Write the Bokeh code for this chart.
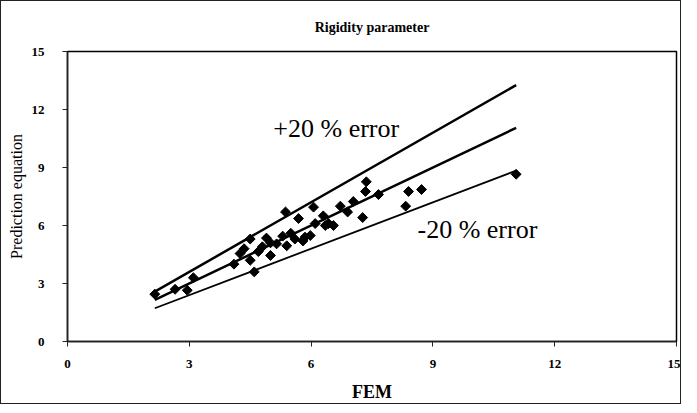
import math
from bokeh.plotting import figure
from bokeh.models import Range1d, FixedTicker, Label
from bokeh.embed import file_html
from bokeh.resources import INLINE

# FEM value vs prediction equation value
fem = [2.15, 2.65, 2.95, 3.1, 4.1, 4.25, 4.35, 4.5, 4.6, 4.5, 4.7, 4.8, 4.9, 5.0, 5.0,
       5.15, 5.3, 5.37, 5.4, 5.5, 5.6, 5.69, 5.8, 5.85, 5.98, 6.06, 6.1, 6.3, 6.35, 6.43,
       6.55, 6.72, 6.9, 7.04, 7.27, 7.36, 7.34, 7.66, 8.33, 8.4, 8.72, 11.05]
pred = [2.45, 2.7, 2.65, 3.3, 4.0, 4.55, 4.8, 4.2, 3.6, 5.3, 4.65, 4.9, 5.35, 4.45, 5.1,
        5.05, 5.45, 6.7, 4.95, 5.6, 5.3, 6.36, 5.2, 5.4, 5.48, 6.95, 6.1, 6.5, 6.0, 6.1,
        6.0, 7.0, 6.7, 7.24, 6.41, 8.26, 7.76, 7.6, 7.0, 7.76, 7.86, 8.65]

line_x = [2.15, 11.05]
factor_hi = 1.2
factor_lo = 0.8

ticks = [0, 3, 6, 9, 12, 15]

SERIF = "Liberation Serif"

p = figure(width=681, height=404, output_backend="svg", toolbar_location=None,
           x_range=Range1d(0, 15), y_range=Range1d(0, 15),
           min_border_left=66, min_border_right=6, min_border_top=50, min_border_bottom=64,
           title="Rigidity parameter")
p.styles = {"border": "1px solid #222"}

p.title.align = "center"
p.title.vertical_align = "top"
p.title.text_font = SERIF
p.title.text_font_size = "14px"
p.title.text_font_style = "bold"
p.title.text_color = "black"
p.title.standoff = 30

p.outline_line_color = "black"
p.outline_line_width = 1.5
p.xgrid.visible = False
p.ygrid.visible = False

for ax in (p.xaxis, p.yaxis):
    ax.ticker = FixedTicker(ticks=ticks)
    ax.minor_tick_line_color = None
    ax.major_tick_in = 0
    ax.major_tick_out = 5
    ax.axis_line_color = "#222222"
    ax.axis_line_width = 1.5
    ax.major_tick_line_color = "#222222"
    ax.major_label_text_font = SERIF
    ax.major_label_text_font_style = "bold"
    ax.major_label_text_font_size = "13px"
    ax.major_label_text_color = "black"
    ax.axis_label_text_font = SERIF
    ax.axis_label_text_font_style = "normal"
    ax.axis_label_text_color = "black"

p.xaxis.major_label_standoff = 13
p.yaxis.major_label_standoff = 18
p.xaxis.axis_label = "FEM"
p.yaxis.axis_label = "Prediction equation"
p.xaxis.axis_label_text_font_size = "18px"
p.xaxis.axis_label_text_font_style = "bold"
p.yaxis.axis_label_text_font_size = "16px"
p.xaxis.axis_label_standoff = 11
p.yaxis.axis_label_standoff = 4

p.line(line_x, [v * factor_hi for v in line_x], line_color="black", line_width=2.5)
p.line(line_x, line_x, line_color="black", line_width=2.5)
p.line(line_x, [v * factor_lo for v in line_x], line_color="black", line_width=1.8)

p.scatter(fem, pred, marker="square", angle=math.pi / 4, size=7,
          fill_color="black", line_color="black")

p.add_layout(Label(x=5.07, y=11.0, text="+20 % error", text_font=SERIF,
                   text_font_size="26px", text_baseline="middle", text_color="black"))
p.add_layout(Label(x=8.62, y=5.8, text="-20 % error", text_font=SERIF,
                   text_font_size="26px", text_baseline="middle", text_color="black"))

open("out.html", "w").write(file_html(p, INLINE))
